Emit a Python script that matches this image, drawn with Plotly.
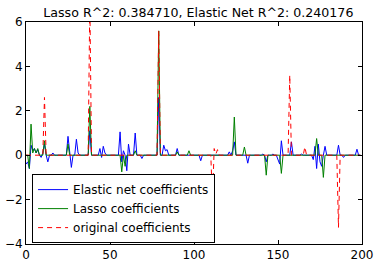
import numpy as np
import plotly.graph_objects as go

n_features = 200
title_text = "Lasso R^2: 0.384710, Elastic Net R^2: 0.240176"

# Elastic net coefficients (sparse: index -> value)
enet_idx = [0, 1, 2, 3, 4, 5, 6, 7, 9, 10, 11, 13, 16, 25, 26, 27, 30, 31, 38,
            44, 45, 46, 47, 56, 57, 58, 60, 61, 65, 69, 79, 82, 83, 84, 90, 104,
            121, 123, 124, 132, 141, 143, 147, 150, 151, 152, 158, 164, 171, 172,
            173, 174, 175, 176, 178, 186, 189, 197]
enet_val = [-0.4, -0.3, -0.6, 0.45, 0.2, 0.3, 0.1, 0.25, -0.1, 0.1, 0.5, -0.3, 0.1,
            0.85, 0.2, -0.55, 0.72, 0.1, 1.1, 0.3, -0.1, 0.4, 0.1, 1.05, -0.3, 0.2,
            -0.7, 0.5, 1.0, -0.15, 2.6, 0.45, 0.2, 0.25, 0.3, -0.25, 0.15, 0.2, 0.6,
            -0.36, 0.05, -0.3, 0.05, -0.2, -0.4, 0.65, 0.6, 0.05, -0.2, 0.4, -0.6,
            0.5, -0.3, -0.5, 0.4, 0.45, -0.1, 0.27]

# Lasso coefficients
lasso_idx = [2, 3, 4, 5, 6, 7, 11, 25, 38, 57, 59, 65, 79, 90, 97, 124, 130,
             143, 152, 173, 177]
lasso_val = [-0.6, 1.4, 0.1, 0.3, 0.1, 0.3, 0.65, 0.5, 2.2, -0.75, -0.5, 0.2,
             5.6, 0.15, 0.2, 1.72, 0.37, -0.9, -0.82, 0.75, -1.0]

# Original coefficients
orig_idx = [11, 38, 79, 111, 112, 113, 114, 157, 166, 186]
orig_val = [2.6, 7.0, 5.6, -2.05, 0.3, 0.05, 0.25, 3.6, 0.37, -3.25]

x_ticks = [0, 50, 100, 150, 200]
y_ticks = [-4, -2, 0, 2, 4, 6]
y_tick_labels = ["\u22124", "\u22122", "0", "2", "4", "6"]


def dense(idx, val):
    arr = np.zeros(n_features)
    arr[idx] = val
    return arr


xs = np.arange(n_features)
enet = dense(enet_idx, enet_val)
lasso = dense(lasso_idx, lasso_val)
orig = dense(orig_idx, orig_val)

fig = go.Figure()
fig.add_trace(go.Scatter(x=xs, y=enet, mode="lines", name="Elastic net coefficients",
                         line=dict(color="#0000ff", width=1)))
fig.add_trace(go.Scatter(x=xs, y=lasso, mode="lines", name="Lasso coefficients",
                         line=dict(color="#008000", width=1)))
fig.add_trace(go.Scatter(x=xs, y=orig, mode="lines", name="original coefficients",
                         line=dict(color="#ff0000", width=1, dash="5px,4px")))

font = "DejaVu Sans, sans-serif"
axis_common = dict(showgrid=False, zeroline=False, showline=True, linecolor="black",
                   linewidth=1, mirror="allticks", ticks="inside", ticklen=4,
                   tickcolor="black", automargin=False,
                   tickfont=dict(family=font, size=12, color="black"))

fig.update_layout(
    width=377, height=266,
    margin=dict(l=26, r=15, t=22, b=22, autoexpand=False),
    paper_bgcolor="white", plot_bgcolor="white",
    title=dict(text=title_text, x=0.513, xref="paper", xanchor="center",
               y=0.968, yanchor="top",
               font=dict(family=font, size=12.6, color="black")),
    xaxis=dict(range=[0, 200], tickvals=x_ticks, **axis_common),
    yaxis=dict(range=[-4, 6], tickvals=y_ticks, ticktext=y_tick_labels, **axis_common),
    legend=dict(x=0.018, y=0.004, xanchor="left", yanchor="bottom",
                bgcolor="white", bordercolor="black", borderwidth=1,
                font=dict(family=font, size=12, color="black"),
                tracegroupgap=0, itemwidth=30),
    showlegend=True,
)

fig.write_html("out.html")
